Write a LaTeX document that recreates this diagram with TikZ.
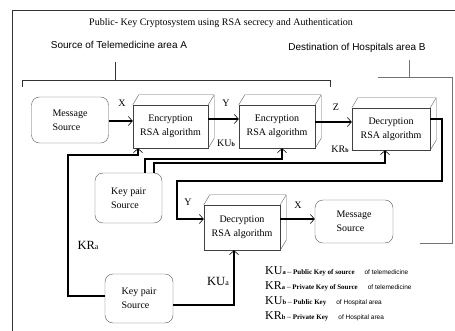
\documentclass[tikz,border=0pt]{standalone}
\usepackage{fontspec}
\setmainfont{Liberation Serif}
\setsansfont{Liberation Sans}
\usetikzlibrary{calc,arrows.meta}
\newcommand{\flowwidth}{1.6pt}
\newcommand{\cubefaces}[1]{\draw[black!60] (#1.north west) -- ++(6,-10) -- ($(#1.north east)+(6,-10)$) -- ($(#1.south east)+(6,-10)$) -- (#1.south east) (#1.north east) -- ++(6,-10);}
\newcommand{\keyrow}[4]{{\fontsize{12}{12}\selectfont #1}{\fontsize{6.5}{7}\selectfont\bfseries #2}\,{\fontsize{8}{8}\selectfont --}\,{\fontsize{7}{8}\selectfont\bfseries #3}\quad{\sffamily\fontsize{6.5}{8}\selectfont #4}}
\tikzset{msgbox/.style={draw=black!65, rounded corners=8pt, inner sep=0pt, align=left, font=\fontsize{10}{14}\selectfont},
rsabox/.style={draw=black!75, fill=white, inner sep=0pt, align=center, font=\fontsize{10}{14}\selectfont},
flow/.style={line width=\flowwidth, -{Straight Barb[length=4pt,width=9pt,line width=0.6pt]}},
lbl/.style={font=\fontsize{10}{10}\selectfont, inner sep=0pt},
keylbl/.style={font=\fontsize{12.5}{12}\selectfont, inner sep=0pt}}

\begin{document}
\begin{tikzpicture}[x=1pt,y=-1pt]
\useasboundingbox (0,0) rectangle (455,331);

\draw[black!80] (12,331) -- (12,10) -- (455,10);
\node[font=\fontsize{10}{12}\selectfont] (title) at (221,23) {Public- Key Cryptosystem using RSA secrecy and Authentication};
\node[font=\sffamily\fontsize{10}{12}\selectfont] (srcA) at (119,45) {Source of Telemedicine area A};
\node[font=\sffamily\fontsize{10}{12}\selectfont] (dstB) at (357,48) {Destination of Hospitals area B};
\draw[black!80] (22,87) -- (22,80) -- (330,80) -- (330,87) (115,80) -- (115,62);
\draw[black!55] (378,77) -- (452,77) -- (452,243) -- (420,243) (409,77) -- (409,60);

\node[msgbox, minimum width=77pt, minimum height=46pt] (msgA) at (70,120) {Message\\Source};
\node[rsabox, minimum width=75pt, minimum height=43pt] (encA) at (170.5,126.5) {Encryption\\RSA algorithm};
\node[rsabox, minimum width=76pt, minimum height=43pt] (encB) at (277,126.5) {Encryption\\RSA algorithm};
\node[rsabox, minimum width=78pt, minimum height=42pt] (decB) at (391,129) {Decryption\\RSA algorithm};
\node[msgbox, minimum width=67pt, minimum height=50pt] (keyB) at (128.5,198) {Key pair\\Source};
\node[rsabox, minimum width=76pt, minimum height=45pt] (decA) at (242,227.5) {Decryption\\RSA algorithm};
\node[msgbox, minimum width=78pt, minimum height=43pt] (msgB) at (354,221.5) {Message\\Source};
\node[msgbox, minimum width=68pt, minimum height=49pt] (keyA) at (139,298.5) {Key pair\\Source};
\cubefaces{encA}
\cubefaces{encB}
\cubefaces{decB}
\cubefaces{decA}

% message path
\draw[flow] ([yshift=-1pt]msgA.east) -- ([yshift=5.5pt]encA.west);
\draw[flow] ([yshift=7.5pt]encA.east) -- ([yshift=7.5pt]encB.west);
\draw[flow] ([yshift=4.5pt]encB.east) -- ([yshift=7pt]decB.west);
\draw[flow] ([yshift=10pt]decB.east) -| (442,181) -| (177,219) -- ([yshift=8.5pt]decA.west);
\draw[flow] ([yshift=8.5pt]decA.east) -- ([yshift=2.5pt]msgB.west);

% keys
\draw[flow] ([xshift=16.5pt]keyB.north) |- (282,159) -- ([xshift=5pt]encB.south);
\draw[flow] ([xshift=25.5pt]keyB.north) |- (385,163) -- ([xshift=-6pt]decB.south);
\draw[flow] ([yshift=2.5pt]keyA.west) -| (68,155) -| ([xshift=-32.5pt]encA.south);
\draw[flow] ([yshift=-6.5pt]keyA.east) -| ([xshift=-8pt]decA.south);

\node[lbl] (x1) at (122,103) {X};
\node[lbl] (y1) at (226,103) {Y};
\node[lbl] (z1) at (336,107) {Z};
\node[lbl] (kub) at (226,143) {KU{\fontsize{6}{6}\selectfont\bfseries b}};
\node[lbl] (krb) at (340,149) {KR{\fontsize{6}{6}\selectfont\bfseries b}};
\node[lbl] (y2) at (188,202) {Y};
\node[lbl] (x2) at (298,205) {X};
\node[keylbl] (kra) at (88,245) {KR{\fontsize{8}{8}\selectfont a}};
\node[keylbl] (kua) at (218,281) {KU{\fontsize{8}{8}\selectfont a}};

\node[anchor=west, inner sep=0pt] (leg1) at (265,271) {\keyrow{KU}{a}{Public Key of source}{of telemedicine}};
\node[anchor=west, inner sep=0pt] (leg2) at (265,286) {\keyrow{KR}{a}{Private Key of Source}{of telemedicine}};
\node[anchor=west, inner sep=0pt] (leg3) at (265,301) {\keyrow{KU}{b}{Public Key}{of Hospital area}};
\node[anchor=west, inner sep=0pt] (leg4) at (265,316) {\keyrow{KR}{b}{Private Key}{of Hospital area}};
\end{tikzpicture}
\end{document}
